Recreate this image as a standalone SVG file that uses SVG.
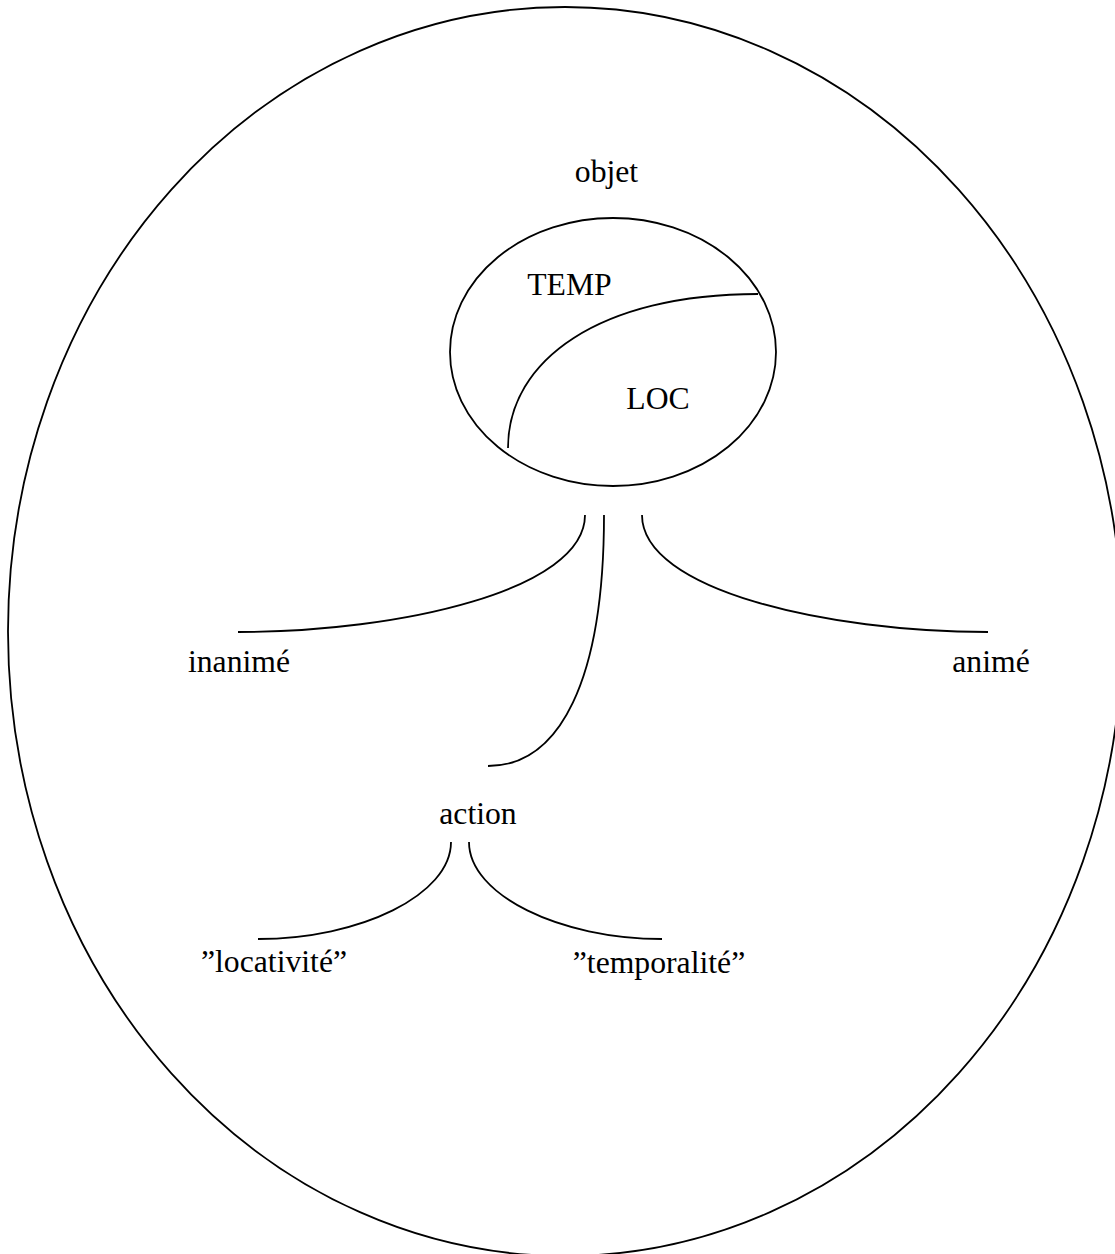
<svg xmlns="http://www.w3.org/2000/svg" width="1115" height="1254" viewBox="0 0 1115 1254">
<style>
.ln{fill:none;stroke:#000;stroke-width:1.8}
.t{font-family:"Liberation Serif","Times New Roman",serif;font-size:31.7px;fill:#000;text-anchor:middle}
</style>
<rect width="1115" height="1254" fill="#fff"/>
<g id="outer">
<ellipse class="ln" cx="565" cy="631.5" rx="557" ry="624.5"/>
</g>
<g id="objet">
<text class="t" x="606.5" y="182">objet</text>
<ellipse class="ln" cx="613" cy="352" rx="163" ry="134"/>
<path class="ln" d="M508,448 C508,360 600,294 758,294"/>
<text class="t" x="569.5" y="295">TEMP</text>
<text class="t" x="658" y="409">LOC</text>
</g>
<g id="inanime"><text class="t" x="239" y="672">inanimé</text></g>
<g id="anime"><text class="t" x="991" y="672">animé</text></g>
<g id="action"><text class="t" x="478" y="824">action</text></g>
<g id="locativite"><text class="t" x="274" y="972">”locativité”</text></g>
<g id="temporalite"><text class="t" x="659" y="973">”temporalité”</text></g>
<g id="connectors">
<path class="ln" d="M585,515 C585,590 400,632 238,632"/>
<path class="ln" d="M604,515 C604,680 560,766 488,766"/>
<path class="ln" d="M642,515 C642,590 827,632 988,632"/>
<path class="ln" d="M451,842 C451,895 360,939 258,939"/>
<path class="ln" d="M469,842 C469,895 560,939 662,939"/>
</g>
</svg>
